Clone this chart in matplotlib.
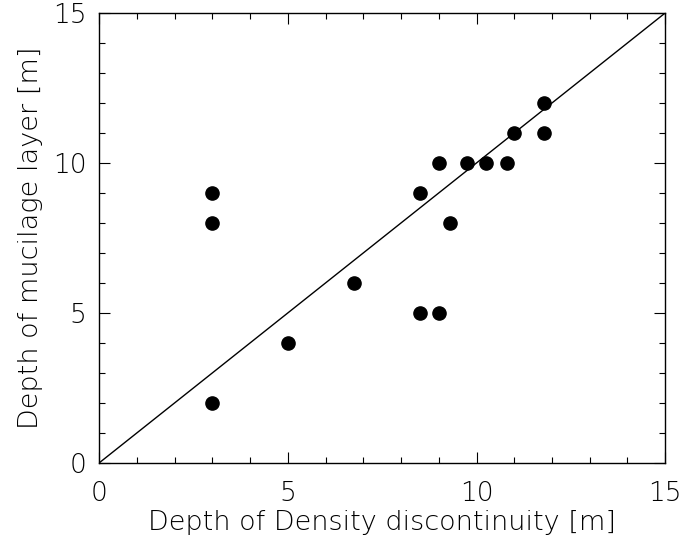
import matplotlib
matplotlib.use("Agg")
import matplotlib.pyplot as plt
import numpy as np

density_depth = [3.0, 3.0, 3.0, 5.0, 6.75, 8.5, 8.5, 9.0, 9.0, 9.3, 9.75, 10.25, 10.8, 11.0, 11.8, 11.8]
mucilage_depth = [9, 8, 2, 4, 6, 9, 5, 10, 5, 8, 10, 10, 10, 11, 12, 11]
line_x = [0, 15]
line_y = [0, 15]

fig = plt.figure(figsize=(6.83, 5.39), dpi=100)
ax = fig.add_axes([0.145, 0.141, 0.829, 0.835])
ax.plot(line_x, line_y, color="black", lw=1.0)
ax.plot(density_depth, mucilage_depth, "o", color="black", markersize=9.5)
ax.set_xlim(0, 15)
ax.set_ylim(0, 15)
ax.set_xticks([0, 5, 10, 15])
ax.set_yticks([0, 5, 10, 15])
ax.set_xticks(np.arange(0, 16, 1), minor=True)
ax.set_yticks(np.arange(0, 16, 1), minor=True)
ax.tick_params(which="both", direction="in", top=True, right=True, labelsize=19, width=0.8)
ax.tick_params(which="major", length=8)
ax.tick_params(axis="x", which="major", pad=13)
ax.tick_params(axis="y", which="major", pad=9)
ax.tick_params(which="minor", length=4)
for lab in ax.get_xticklabels() + ax.get_yticklabels():
    lab.set_fontweight("light")
for s in ax.spines.values():
    s.set_linewidth(1.0)
ax.set_xlabel("Depth of Density discontinuity [m]", fontsize=19.5, fontweight="light", labelpad=3)
ax.set_ylabel("Depth of mucilage layer [m]", fontsize=19.5, fontweight="light", labelpad=7)
fig.savefig("out.png", dpi=100)
